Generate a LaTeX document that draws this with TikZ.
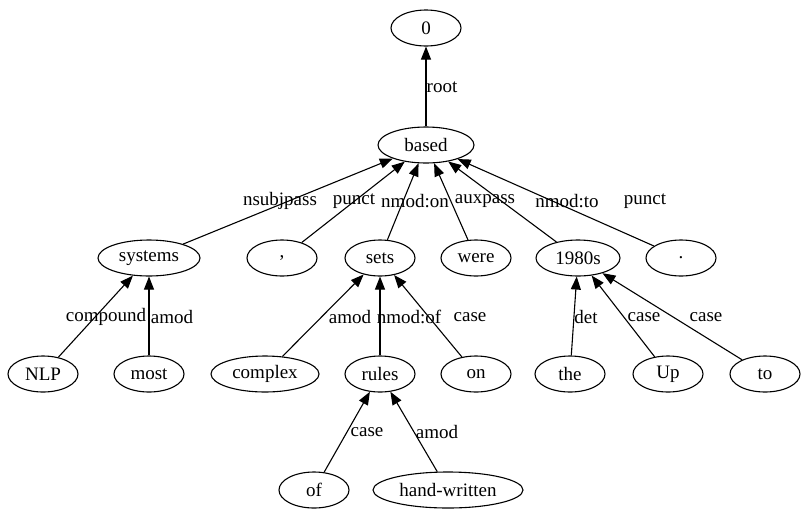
\documentclass[tikz,border=0pt]{standalone}
\usepackage{fontspec}
\setmainfont{Liberation Serif}
\usetikzlibrary{shapes.geometric,arrows.meta}
\begin{document}
\begin{tikzpicture}[x=1pt,y=-1pt,
  word/.style={draw,ellipse,line width=1.1pt,inner sep=0pt,minimum height=36pt,font=\fontsize{19}{22}\selectfont},
  dep/.style={draw,line width=1.1pt,-{Triangle[length=13pt,width=10pt]}},
  lab/.style={font=\fontsize{19}{22}\selectfont,inner sep=0pt}]
\useasboundingbox (0,0) rectangle (805,517);
\node[word,minimum width=70pt] (n0) at (426,28) {0};
\node[word,minimum width=96pt] (based) at (426,145) {based};
\node[word,minimum width=102pt] (systems) at (149,258) {systems};
\node[word,minimum width=70pt] (comma) at (282,258) {,};
\node[word,minimum width=70pt] (sets) at (380,258) {sets};
\node[word,minimum width=70pt] (were) at (476,258) {were};
\node[word,minimum width=84pt] (s1980) at (578,258) {1980s};
\node[word,minimum width=70pt] (period) at (681,258) {.};
\node[word,minimum width=70pt] (nlp) at (43,374) {NLP};
\node[word,minimum width=70pt] (most) at (149,374) {most};
\node[word,minimum width=108pt] (complex) at (265,374) {complex};
\node[word,minimum width=70pt] (rules) at (380,374) {rules};
\node[word,minimum width=70pt] (on) at (476,374) {on};
\node[word,minimum width=70pt] (the) at (570,374) {the};
\node[word,minimum width=70pt] (up) at (668,374) {Up};
\node[word,minimum width=70pt] (to) at (765,374) {to};
\node[word,minimum width=70pt] (of) at (314,490) {of};
\node[word,minimum width=150pt] (hand) at (448,490) {hand-written};

\draw[dep] (based) -- (n0);
\draw[dep] (systems) -- (based);
\draw[dep] (comma) -- (based);
\draw[dep] (sets) -- (based);
\draw[dep] (were) -- (based);
\draw[dep] (s1980) -- (based);
\draw[dep] (period) -- (based);
\draw[dep] (nlp) -- (systems);
\draw[dep] (most) -- (systems);
\draw[dep] (complex) -- (sets);
\draw[dep] (rules) -- (sets);
\draw[dep] (on) -- (sets);
\draw[dep] (the) -- (s1980);
\draw[dep] (up) -- (s1980);
\draw[dep] (to) -- (s1980);
\draw[dep] (of) -- (rules);
\draw[dep] (hand) -- (rules);

\node[lab] (l1) at (442,87) {root};
\node[lab] (l2) at (280,201) {nsubjpass};
\node[lab] (l3) at (354,201) {punct};
\node[lab] (l4) at (415,201) {nmod:on};
\node[lab] (l5) at (485,201) {auxpass};
\node[lab] (l6) at (567,201) {nmod:to};
\node[lab] (l7) at (645,201) {punct};
\node[lab] (l8) at (106,317) {compound};
\node[lab] (l9) at (172,317) {amod};
\node[lab] (l10) at (350,317) {amod};
\node[lab] (l11) at (409,317) {nmod:of};
\node[lab] (l12) at (470,317) {case};
\node[lab] (l13) at (586,317) {det};
\node[lab] (l14) at (644,317) {case};
\node[lab] (l15) at (706,317) {case};
\node[lab] (l16) at (367,432) {case};
\node[lab] (l17) at (437,432) {amod};
\end{tikzpicture}
\end{document}
